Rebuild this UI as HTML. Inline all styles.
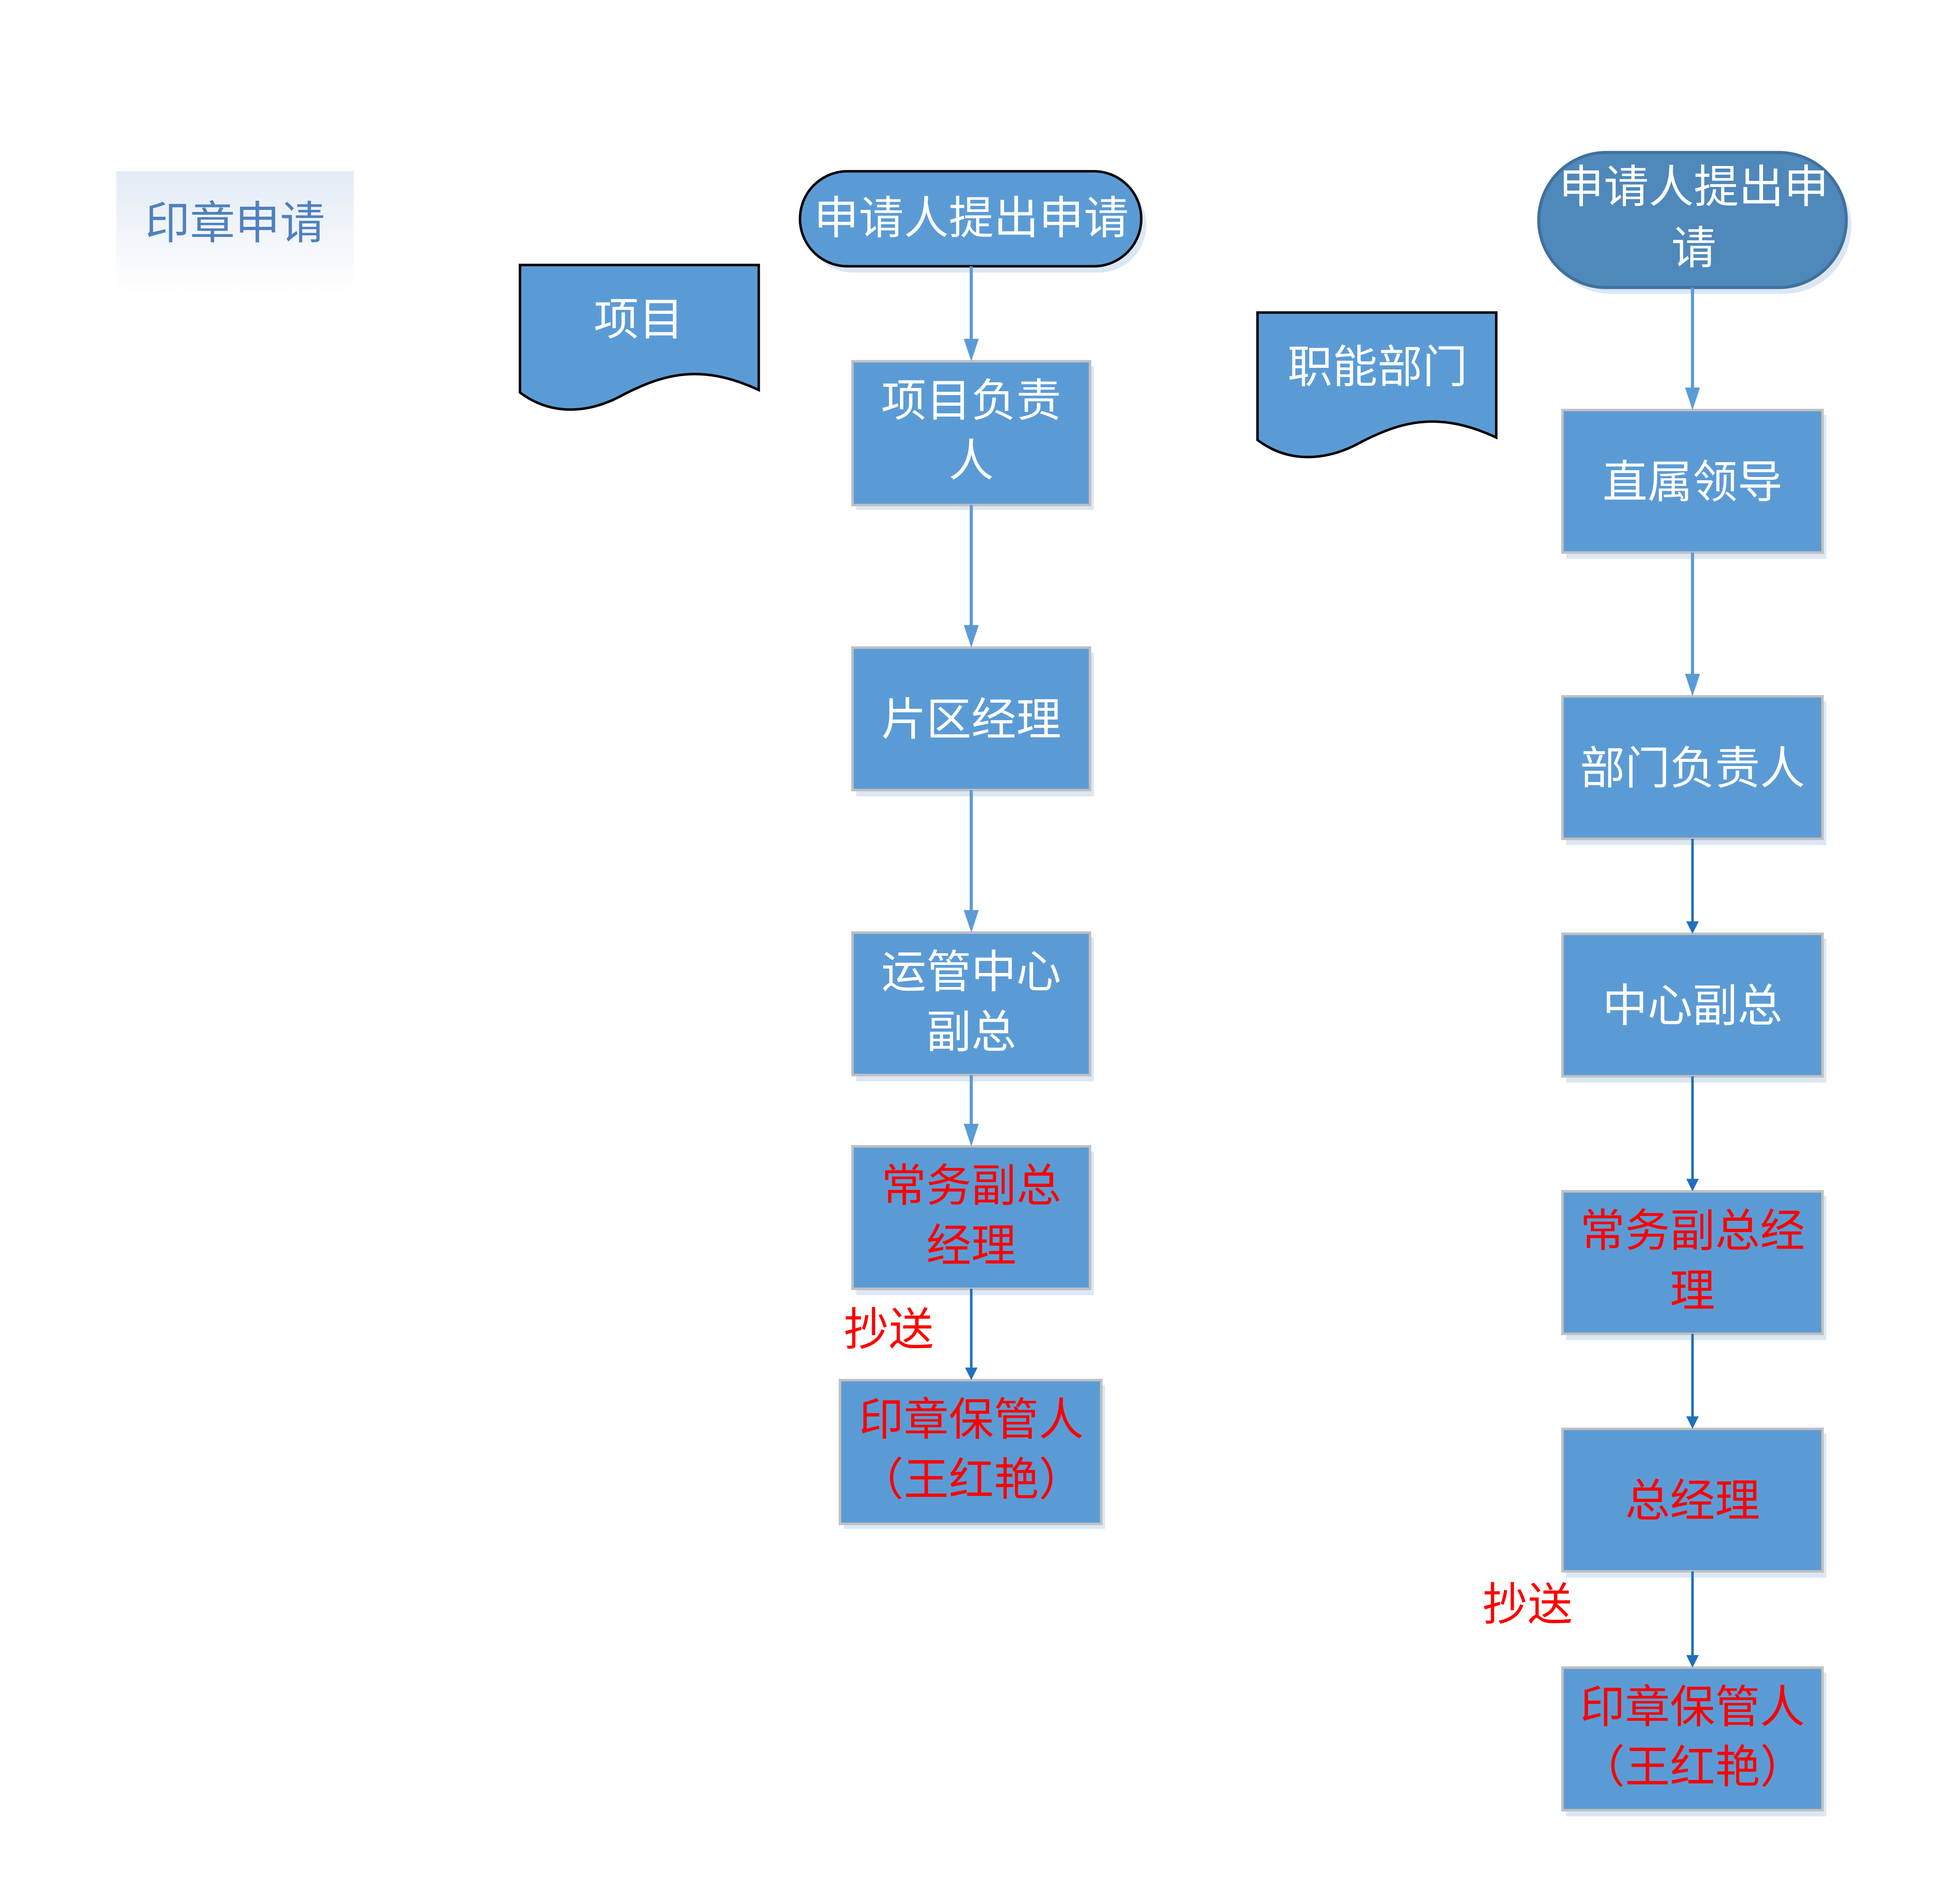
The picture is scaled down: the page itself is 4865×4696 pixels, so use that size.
<!DOCTYPE html>
<html><head><meta charset="utf-8"><style>
html,body{margin:0;padding:0;background:#fff;}
svg{display:block;}
text{font-family:"Liberation Sans","Noto Sans CJK SC",sans-serif;text-anchor:middle;}
</style></head><body>
<svg width="4865" height="4696" viewBox="0 0 1568 1513.5" preserveAspectRatio="none" xmlns="http://www.w3.org/2000/svg">
<defs>
<linearGradient id="lg" x1="0" y1="0" x2="0" y2="1">
<stop offset="0" stop-color="#e4ebf5"/><stop offset="1" stop-color="#ffffff"/>
</linearGradient>
</defs>
<rect x="93" y="137" width="190" height="98" fill="url(#lg)"/>
<text x="188" y="191" font-size="36" fill="#4f81bd">印章申请</text>

<g fill="#dbe7f4">
<rect x="685" y="293" width="190" height="115"/>
<rect x="685" y="522" width="190" height="115"/>
<rect x="685" y="750" width="190" height="115"/>
<rect x="685" y="921" width="190" height="115"/>
<rect x="675" y="1108" width="209" height="115"/>
<rect x="1253" y="332" width="208" height="115"/>
<rect x="1253" y="561" width="208" height="115"/>
<rect x="1253" y="751" width="208" height="115"/>
<rect x="1253" y="957" width="208" height="115"/>
<rect x="1253" y="1147" width="208" height="115"/>
<rect x="1253" y="1338" width="208" height="115"/>
<rect x="644" y="142" width="273" height="76" rx="38"/>
<rect x="1235" y="127" width="246" height="108" rx="54"/>
</g>

<path d="M416 212 H607 V312 C560 290 530 300 500 315 C470 332 440 332 416 314 Z" fill="#5b9bd5" stroke="#000" stroke-width="2"/>
<text x="511" y="268" font-size="36" fill="#fff">项目</text>
<path d="M1006 250 H1197 V350 C1150 328 1120 338 1090 353 C1060 370 1030 370 1006 352 Z" fill="#5b9bd5" stroke="#000" stroke-width="2"/>
<text x="1102" y="306" font-size="36" fill="#fff">职能部门</text>

<rect x="640" y="137" width="273" height="76" rx="38" fill="#5b9bd5" stroke="#000" stroke-width="2"/>
<text x="777" y="187" font-size="36" fill="#fff">申请人提出申请</text>
<rect x="1231" y="122" width="246" height="108" rx="54" fill="#4f88bb" stroke="#41719c" stroke-width="2.5"/>
<text x="1355" y="162" font-size="36" fill="#fff">申请人提出申</text>
<text x="1355" y="211" font-size="36" fill="#fff">请</text>

<g fill="#5b9bd5" stroke="#c0c0c0" stroke-width="2">
<rect x="682" y="289" width="190" height="115"/>
<rect x="682" y="518" width="190" height="114"/>
<rect x="682" y="746" width="190" height="114"/>
<rect x="682" y="917" width="190" height="114"/>
<rect x="672" y="1104" width="209" height="115"/>
<rect x="1250" y="328" width="208" height="114"/>
<rect x="1250" y="557" width="208" height="114"/>
<rect x="1250" y="747" width="208" height="114"/>
<rect x="1250" y="953" width="208" height="114"/>
<rect x="1250" y="1143" width="208" height="114"/>
<rect x="1250" y="1334" width="208" height="114"/>
</g>

<g font-size="36" fill="#fff">
<text x="777" y="333">项目负责</text>
<text x="777" y="381">人</text>
<text x="777" y="588">片区经理</text>
<text x="777" y="790">运管中心</text>
<text x="777" y="838">副总</text>
<text x="1354" y="398">直属领导</text>
<text x="1354" y="627">部门负责人</text>
<text x="1354" y="817">中心副总</text>
</g>
<g font-size="36" fill="#ff0000">
<text x="777" y="961">常务副总</text>
<text x="777" y="1009">经理</text>
<text x="777" y="1148">印章保管人</text>
<text x="777" y="1196">（王红艳）</text>
<text x="1354" y="997">常务副总经</text>
<text x="1354" y="1045">理</text>
<text x="1354" y="1213">总经理</text>
<text x="1354" y="1378">印章保管人</text>
<text x="1354" y="1426">（王红艳）</text>
<text x="711" y="1076">抄送</text>
<text x="1222" y="1296">抄送</text>
</g>

<g stroke="#5b9bd5" stroke-width="2.5">
<line x1="777" y1="213" x2="777" y2="282"/>
<line x1="777" y1="404" x2="777" y2="511"/>
<line x1="777" y1="632" x2="777" y2="739"/>
<line x1="777" y1="860" x2="777" y2="910"/>
<line x1="1354" y1="230" x2="1354" y2="321"/>
<line x1="1354" y1="442" x2="1354" y2="550"/>
</g>
<g stroke="#1f6fbf" stroke-width="2">
<line x1="777" y1="1031" x2="777" y2="1099"/>
<line x1="1354" y1="671" x2="1354" y2="743"/>
<line x1="1354" y1="861" x2="1354" y2="948"/>
<line x1="1354" y1="1067" x2="1354" y2="1138"/>
<line x1="1354" y1="1257" x2="1354" y2="1329"/>
</g>
<g fill="#5b9bd5">
<polygon points="771,271 783,271 777,289"/>
<polygon points="771,500 783,500 777,518"/>
<polygon points="771,728 783,728 777,746"/>
<polygon points="771,899 783,899 777,917"/>
<polygon points="1348,310 1360,310 1354,328"/>
<polygon points="1348,539 1360,539 1354,557"/>
</g>
<g fill="#1f6fbf">
<polygon points="772,1094 782,1094 777,1104"/>
<polygon points="1349,737 1359,737 1354,747"/>
<polygon points="1349,943 1359,943 1354,953"/>
<polygon points="1349,1133 1359,1133 1354,1143"/>
<polygon points="1349,1324 1359,1324 1354,1334"/>
</g>
</svg>
</body></html>
